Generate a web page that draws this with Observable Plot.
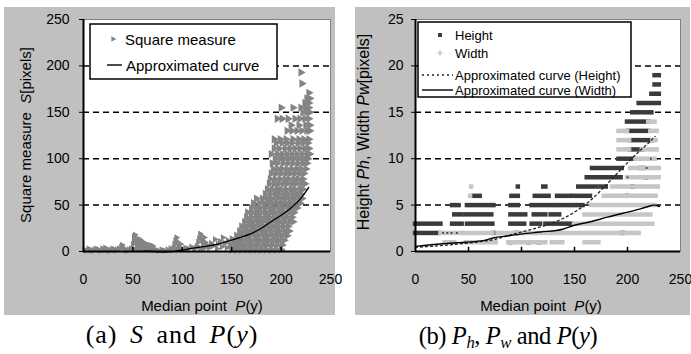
<!DOCTYPE html>
<html><head><meta charset="utf-8">
<script src="https://cdn.jsdelivr.net/npm/d3@7"></script>
<script src="https://cdn.jsdelivr.net/npm/@observablehq/plot@0.6"></script>
<style>
body{margin:0;background:#fff;}
#wrap{position:relative;width:691px;height:354px;overflow:hidden;font-family:"Liberation Sans",Arial,sans-serif;}
.panel{position:absolute;background:#c0c0c0;}
.panel svg{display:block;overflow:visible;}
.cap{position:absolute;font-family:"Liberation Serif","Times New Roman",serif;font-size:26px;white-space:nowrap;transform:translateX(-50%);line-height:28px;}
.cap sub{font-size:0.68em;vertical-align:-0.25em;line-height:0;}
#ca{letter-spacing:1px;word-spacing:5px;}
#cb{font-size:24.5px;letter-spacing:-0.4px;top:322px !important;}
</style></head><body>
<div id="wrap">
 <div class="panel" id="pa" style="left:4px;top:7px;width:331px;height:308px"></div>
 <div class="panel" id="pb" style="left:355px;top:7px;width:335px;height:308px"></div>
 <div class="cap" id="ca" style="left:172px;top:321px">(a) <i>S</i> and <i>P</i>(<i>y</i>)</div>
 <div class="cap" id="cb" style="left:508px;top:322px">(b) <i>P<sub>h</sub></i>, <i>P<sub>w</sub></i> and <i>P</i>(<i>y</i>)</div>
</div>
<script>
// ---------- axes ----------
const xTicks = [0, 50, 100, 150, 200, 250];
const sTicks = [0, 50, 100, 150, 200, 250];
const sGrid = [50, 100, 150, 200];
const pTicks = [0, 5, 10, 15, 20, 25];
const pGrid = [5, 10, 15, 20];

// ---------- (a) square measure S vs median point P(y) ----------
const squareLow = [
 [1,2],[3,1],[5,3],[7,2],[9,1],[11,2],[13,3],[15,2],[17,1],[19,3],[21,2],[22,4],[24,2],[26,1],[28,2],[30,3],[32,1],[34,2],[36,3],[38,5],[39,7],[40,4],[42,2],[44,1],[46,2],[48,3],
 [50,3],[50,8],[51,12],[51,16],[52,18],[53,14],[53,10],[54,6],[55,12],[56,9],[56,4],[57,13],[58,8],[59,11],[60,5],[61,9],[62,7],[63,3],[64,8],[65,6],[66,4],[67,7],[68,5],[69,3],[70,6],[71,2],[52,2],[55,2],[58,2],[61,2],[64,2],[67,2],
 [73,2],[76,1],[79,2],[82,1],[85,2],[88,3],
 [91,4],[92,8],[93,12],[94,15],[95,10],[96,6],[97,3],[98,8],[94,3],
 [100,2],[103,4],[106,3],[109,5],[112,3],[114,4],
 [115,6],[116,10],[117,14],[118,19],[119,17],[120,12],[121,8],[122,15],[123,10],[124,5],[125,7],[118,3],[121,3],
 [127,4],[129,9],[131,6],[133,13],[135,3],[136,8],[138,11],[140,5],[141,15],[143,9],[145,4],[146,12],[148,7],[150,14],[150,3],[152,10],[153,6],[155,16],[156,11],[157,3],[158,8],[159,20],[160,13],[160,5]
];
// rows of the dense cloud: [S, [P(y) values]]
const squareRows = [
 [2,  [150,155,160,165,170,175,180,185,190,195,200]],
 [7,  [149,154,158,163,168,172,177,182,186,191,196,201]],
 [12, [152,157,161,166,170,175,179,184,188,193,198,203]],
 [17, [155,160,165,169,174,178,183,187,192,196,201,206]],
 [22, [158,163,167,172,176,181,185,190,195,199,204,208]],
 [27, [160,165,170,174,179,183,188,192,197,202,207]],
 [32, [163,168,172,177,181,186,190,195,199,204,209,212]],
 [37, [165,170,175,179,184,188,193,197,202,206,211]],
 [42, [166,171,176,180,185,190,194,199,203,208,213]],
 [47, [170,175,179,184,189,193,198,202,207,211,216]],
 [52, [172,178,183,188,192,197,201,206,210,215,219]],
 [57, [175,181,186,190,195,200,204,209,213,218,221]],
 [62, [184,189,194,198,203,207,212,216,220]],
 [67, [186,191,196,200,205,210,214,219,222]],
 [73, [188,193,197,202,206,211,215,220,224]],
 [78, [189,194,199,204,208,213,217,222]],
 [84, [190,195,200,205,209,214,219,223]],
 [89, [192,197,201,206,211,216,220,225]],
 [95, [191,196,202,207,212,217,222,226]],
 [100,[194,199,203,208,213,218,223,227]],
 [105,[190,196,201,206,211,216,221,226,229]],
 [111,[193,198,204,209,214,219,224,228]],
 [117,[195,201,206,211,217,222,227]],
 [121,[193,199,205,212,218,223,228]],
 [130,[206,211,216,221,226,229]],
 [136,[210,218,225,229]],
 [143,[196,201,207,214,219,224,228]],
 [150,[222,226,229]],
 [155,[200,212,220,225,228]],
 [160,[224,228]],
 [165,[226,229]],
 [171,[228]],
 [181,[221]],
 [193,[220]]
];
const curveAx = [61, 70, 80, 90, 100, 108, 120, 132, 140, 149, 160, 169, 180, 189, 200, 209, 221, 228];
const curveAy = [0.5, 0, -0.5, 0, 1.5, 3, 5, 7, 9, 12, 15.5, 19, 25, 31.5, 39, 46, 58.5, 69];

// ---------- (b) height / width vs median point ----------
// runs of overlapping markers: [P(y) from, P(y) to, value]
const heightRuns = [
 [90,90,1],[107,107,1],[117,117,1],
 [0,22,2],[74,74,2],[95,96,2],[195,196,2],
 [0,24,3],[35,44,3],[49,73,3],[90,103,3],[110,118,3],[123,147,3],
 [37,44,4],[48,72,4],[90,104,4],[112,123,4],[128,136,4],
 [35,41,5],[49,74,5],[90,97,5],[110,130,5],[134,146,5],[150,158,5],
 [55,61,6],[91,97,6],[113,126,6],[134,146,6],[149,165,6],[200,200,6],
 [97,97,7],[121,123,7],[154,171,7],[175,180,7],[205,205,7],
 [162,194,8],[218,218,8],
 [167,195,9],[213,215,9],
 [192,206,10],
 [203,214,11],
 [203,223,12],
 [201,220,13],
 [200,220,14],
 [205,223,15],
 [211,230,16],
 [223,230,17],
 [226,230,18],
 [226,230,19]
];
const widthRuns = [
 [28,37,1],[48,76,1],[88,123,1],[129,139,1],[160,173,1],
 [24,44,2],[47,73,2],[78,194,2],[198,211,2],
 [150,224,3],
 [160,222,4],
 [166,226,5],
 [52,52,6],[178,227,6],
 [53,53,7],[186,229,7],
 [200,230,8],
 [203,230,9],
 [208,226,10],
 [192,202,11],[214,228,11],
 [192,202,12],[224,227,12],
 [192,200,13],[222,228,13],
 [220,226,14]
];
const widthDots = [[26,2],[30,2],[34,2],[39,2],[200,8],[218,9],[222,10]];
const hCurveX = [0, 20, 40, 60, 73, 90, 110, 130, 148, 165, 181, 196, 212, 219, 226];
const hCurveY = [0.45, 0.6, 0.8, 1.05, 1.26, 1.8, 2.4, 3.1, 4.1, 5.5, 7.3, 9.1, 10.9, 11.6, 12.4];
const wCurveX = [0, 25, 47, 65, 73, 88, 101, 118, 139, 149, 165, 181, 195, 206, 218, 225, 230];
const wCurveY = [0.55, 0.83, 1.0, 1.2, 1.45, 1.7, 1.9, 2.1, 2.4, 2.8, 3.2, 3.7, 4.1, 4.4, 4.8, 5.0, 4.85];

const FONT = "Liberation Sans, Arial, sans-serif";
const DARK = "#3a3a3a", LIGHT = "#c6c6c6", MID = "#848484";

// ---------- panel (a) ----------
const ptsDense = squareRows.flatMap(([s, xs]) => xs.map(x => [x, s]));
const curveA = curveAx.map((x, i) => ({x, y: curveAy[i]}));
const plotA = Plot.plot({
  width: 331, height: 308, marginLeft: 79, marginRight: 5, marginTop: 12, marginBottom: 64,
  style: {background: "transparent", fontFamily: FONT, fontSize: "14px", color: "black", overflow: "visible"},
  x: {domain: [0, 250]},
  y: {domain: [0, 250]},
  marks: [
    Plot.frame({fill: "white", stroke: "#808080"}),
    Plot.ruleY(sGrid, {stroke: "black", strokeWidth: 1.5, strokeDasharray: "6,4"}),
    Plot.dot(squareLow, {x: d => d[0], y: d => d[1], symbol: "triangle", rotate: 90, r: 2.5, fill: MID, stroke: "none"}),
    Plot.dot(ptsDense, {x: d => d[0], y: d => d[1], symbol: "triangle", rotate: 90, r: 3.1, fill: MID, stroke: "none"}),
    Plot.line(curveA, {x: "x", y: "y", stroke: "black", strokeWidth: 1.3, curve: "monotone-x"}),
    Plot.ruleX([0], {stroke: "black", strokeWidth: 2}),
    Plot.ruleY([0], {stroke: "black", strokeWidth: 2}),
    Plot.ruleX(xTicks.slice(1, -1), {y1: 0, y2: 4.5, stroke: "black", strokeWidth: 1.5}),
    Plot.axisY({ticks: sTicks, tickSize: 4, tickPadding: 10, label: null, fontSize: 14}),
    Plot.axisX({ticks: xTicks, tickSize: 0, tickPadding: 23, label: null, fontSize: 14})
  ]
});
document.getElementById("pa").appendChild(plotA);

// ---------- panel (b) ----------
const hCurve = hCurveX.map((x, i) => ({x, y: hCurveY[i]}));
const wCurve = wCurveX.map((x, i) => ({x, y: wCurveY[i]}));
const plotB = Plot.plot({
  width: 335, height: 308, marginLeft: 60, marginRight: 10, marginTop: 12, marginBottom: 64,
  style: {background: "transparent", fontFamily: FONT, fontSize: "14px", color: "black", overflow: "visible"},
  x: {domain: [0, 250]},
  y: {domain: [0, 25]},
  marks: [
    Plot.frame({fill: "white", stroke: "#808080"}),
    Plot.ruleY(pGrid, {stroke: "black", strokeWidth: 1.5, strokeDasharray: "6,4"}),
    Plot.ruleY(heightRuns, {x1: d => d[0], x2: d => d[1], y: d => d[2], stroke: DARK, strokeWidth: 4.5, strokeLinecap: "square"}),
    Plot.ruleY(widthRuns, {x1: d => d[0], x2: d => d[1], y: d => d[2], stroke: LIGHT, strokeWidth: 4.5, strokeLinecap: "square"}),
    Plot.dot(widthDots, {x: d => d[0], y: d => d[1], symbol: "square", r: 1, fill: DARK}),
    Plot.line(hCurve, {x: "x", y: "y", stroke: "#222", strokeWidth: 1.3, strokeDasharray: "2,3", curve: "monotone-x"}),
    Plot.line(wCurve, {x: "x", y: "y", stroke: "black", strokeWidth: 1.4, curve: "monotone-x"}),
    Plot.ruleX([0], {stroke: "black", strokeWidth: 2}),
    Plot.ruleY([0], {stroke: "black", strokeWidth: 2}),
    Plot.ruleX(xTicks.slice(1, -1), {y1: 0, y2: 0.45, stroke: "black", strokeWidth: 1.5}),
    Plot.axisY({ticks: pTicks, tickSize: 4, tickPadding: 8, label: null, fontSize: 14}),
    Plot.axisX({ticks: xTicks, tickSize: 0, tickPadding: 23, label: null, fontSize: 14})
  ]
});
document.getElementById("pb").appendChild(plotB);

// ---------- labels & legends ----------
function label(svg, x, y, parts, rotate, size) {
  const t = d3.select(svg).append("text")
    .attr("transform", `translate(${x},${y})` + (rotate ? " rotate(-90)" : ""))
    .attr("text-anchor", "middle").attr("dominant-baseline", "central")
    .attr("font-family", FONT).attr("font-size", size || 15).attr("fill", "black");
  parts.forEach(p => {
    const s = t.append("tspan").text(p[0]);
    if (p[1]) s.attr("font-style", "italic");
  });
  return t;
}
label(plotA, 21, 128, [["Square measure  "], ["S", 1], ["[pixels]"]], true, 15);
label(plotA, 198, 298, [["Median point  "], ["P", 1], ["(y)"]], false, 15);
label(plotB, 8, 125, [["Height "], ["Ph", 1], [", Width "], ["Pw", 1], ["[pixels]"]], true, 16);
label(plotB, 186, 298, [["Median point  "], ["P", 1], ["(y)"]], false, 15);

// legend (a)
{
  const g = d3.select(plotA).append("g").attr("font-family", FONT).attr("font-size", 15).attr("text-anchor", "start");
  g.append("rect").attr("x", 86).attr("y", 17).attr("width", 187).attr("height", 55)
    .attr("fill", "white").attr("stroke", "black").attr("stroke-width", 1.5);
  g.append("path").attr("d", d3.symbol(d3.symbolTriangle, 14)()).attr("fill", MID)
    .attr("transform", "translate(109,32) rotate(90)");
  g.append("text").attr("x", 121).attr("y", 32).attr("dominant-baseline", "central").text("Square measure");
  g.append("line").attr("x1", 103).attr("x2", 118).attr("y1", 58).attr("y2", 58).attr("stroke", "black").attr("stroke-width", 1.4);
  g.append("text").attr("x", 122).attr("y", 58).attr("dominant-baseline", "central").text("Approximated curve");
}
// legend (b)
{
  const g = d3.select(plotB).append("g").attr("font-family", FONT).attr("font-size", 13).attr("text-anchor", "start");
  g.append("rect").attr("x", 63).attr("y", 15).attr("width", 213).attr("height", 75)
    .attr("fill", "white").attr("stroke", "black").attr("stroke-width", 1.5);
  g.append("rect").attr("x", 83).attr("y", 26).attr("width", 4).attr("height", 4).attr("fill", DARK);
  g.append("text").attr("x", 100).attr("y", 28).attr("dominant-baseline", "central").text("Height");
  g.append("path").attr("d", d3.symbol(d3.symbolCross, 14)()).attr("fill", LIGHT).attr("transform", "translate(85,46)");
  g.append("text").attr("x", 100).attr("y", 46).attr("dominant-baseline", "central").text("Width");
  g.append("line").attr("x1", 67).attr("x2", 98).attr("y1", 68).attr("y2", 68).attr("stroke", "#222").attr("stroke-width", 1.3).attr("stroke-dasharray", "2,3");
  g.append("text").attr("x", 100).attr("y", 68).attr("dominant-baseline", "central").text("Approximated curve (Height)");
  g.append("line").attr("x1", 67).attr("x2", 98).attr("y1", 83).attr("y2", 83).attr("stroke", "black").attr("stroke-width", 1.4);
  g.append("text").attr("x", 100).attr("y", 83).attr("dominant-baseline", "central").text("Approximated curve (Width)");
}
</script>
</body></html>
